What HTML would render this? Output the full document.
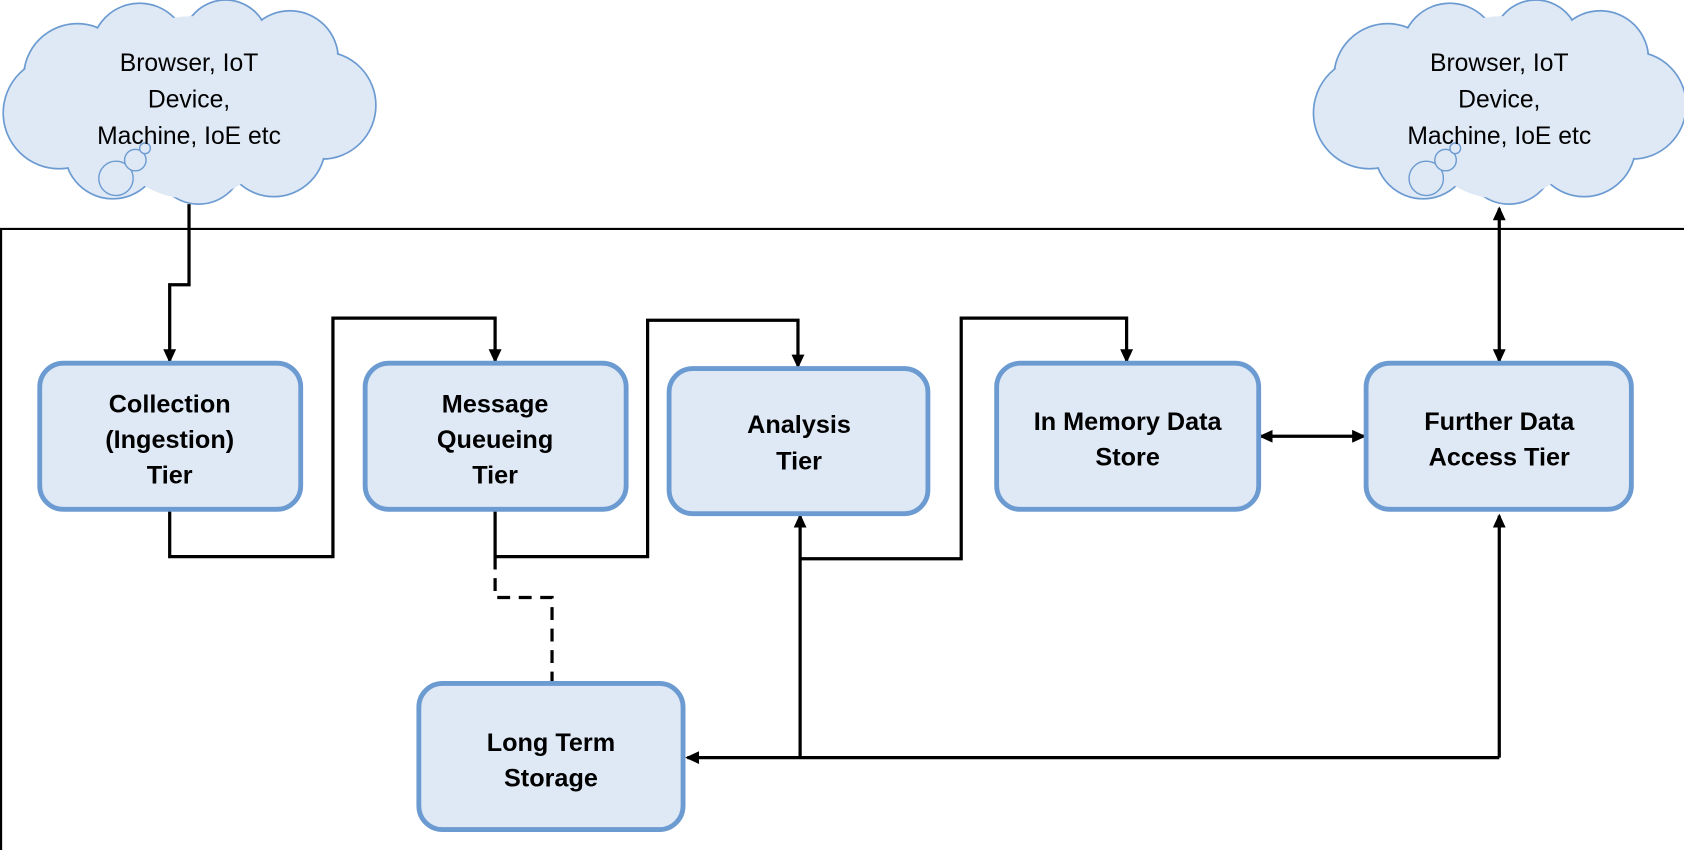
<!DOCTYPE html>
<html><head><meta charset="utf-8"><style>
html,body{margin:0;padding:0;background:#fff;}
svg{display:block;}
.ct{font-family:"Liberation Sans",sans-serif;font-size:23px;fill:#000;text-anchor:middle;}
.bt{font-family:"Liberation Sans",sans-serif;font-size:23.5px;font-weight:bold;fill:#000;text-anchor:middle;}
.box{fill:#dfe9f5;stroke:#6c9bd2;stroke-width:4.5;}
.ln{fill:none;stroke:#000;stroke-width:3;}
</style></head><body>
<svg width="1684" height="850" viewBox="0 0 1568 791" preserveAspectRatio="none" xmlns="http://www.w3.org/2000/svg">
<defs>
<marker id="ah" markerWidth="13" markerHeight="12" refX="11" refY="6" orient="auto-start-reverse" markerUnits="userSpaceOnUse">
<path d="M0,0 L13,6 L0,12 z" fill="#000"/></marker>
<g id="cloud">
 <g fill="#dfe9f5" stroke="#6c9bd2" stroke-width="1.6">
  <circle cx="72" cy="72" r="50"/><circle cx="130" cy="48" r="45"/><circle cx="210" cy="40" r="40"/>
  <circle cx="270" cy="55" r="45"/><circle cx="300" cy="98" r="50"/><circle cx="255" cy="135" r="48"/>
  <circle cx="185" cy="148" r="42"/><circle cx="105" cy="140" r="45"/><circle cx="55" cy="105" r="52"/>
 </g>
 <g fill="#dfe9f5">
  <circle cx="72" cy="72" r="49"/><circle cx="130" cy="48" r="44"/><circle cx="210" cy="40" r="39"/>
  <circle cx="270" cy="55" r="44"/><circle cx="300" cy="98" r="49"/><circle cx="255" cy="135" r="47"/>
  <circle cx="185" cy="148" r="41"/><circle cx="105" cy="140" r="44"/><circle cx="55" cy="105" r="51"/>
  <circle cx="178" cy="100" r="85"/>
 </g>
 <g fill="#dfe9f5" stroke="#6c9bd2" stroke-width="1.3">
  <circle cx="108" cy="166" r="16"/><circle cx="126" cy="149" r="10"/><circle cx="135" cy="138" r="5"/>
 </g>
</g>
</defs>
<use href="#cloud" x="0" y="0"/>
<use href="#cloud" x="1220" y="0"/>
<text class="ct" x="176" y="66">Browser, IoT</text>
<text class="ct" x="176" y="100">Device,</text>
<text class="ct" x="176" y="134">Machine, IoE etc</text>
<text class="ct" x="1396" y="66">Browser, IoT</text>
<text class="ct" x="1396" y="100">Device,</text>
<text class="ct" x="1396" y="134">Machine, IoE etc</text>

<path d="M0,213 H1568 M1,213 V791" stroke="#000" stroke-width="2" fill="none"/>

<path class="ln" d="M176,190 V265 H158 V336" marker-end="url(#ah)"/>
<path class="ln" d="M158,474 V518 H310 V296 H461 V336" marker-end="url(#ah)"/>
<path class="ln" d="M461,474 V518 H603 V298 H743 V341" marker-end="url(#ah)"/>
<path class="ln" d="M461,518 V556 H514 V636" stroke-dasharray="12,8"/>
<path class="ln" d="M745,520 H895 V296 H1049 V336" marker-end="url(#ah)"/>
<path class="ln" d="M745,705 V480" marker-end="url(#ah)"/>
<path class="ln" d="M1396,705 V480" marker-end="url(#ah)"/>
<path class="ln" d="M1396,705 H640" marker-end="url(#ah)"/>
<path class="ln" d="M1174,406 H1270" marker-start="url(#ah)" marker-end="url(#ah)"/>
<path class="ln" d="M1396,194 V336" marker-start="url(#ah)" marker-end="url(#ah)"/>

<rect class="box" x="37" y="338" width="243" height="136" rx="22"/>
<text class="bt" x="158" y="384">Collection</text>
<text class="bt" x="158" y="417">(Ingestion)</text>
<text class="bt" x="158" y="450">Tier</text>

<rect class="box" x="340" y="338" width="243" height="136" rx="22"/>
<text class="bt" x="461" y="384">Message</text>
<text class="bt" x="461" y="417">Queueing</text>
<text class="bt" x="461" y="450">Tier</text>

<rect class="box" x="623" y="343" width="241" height="135" rx="22"/>
<text class="bt" x="744" y="403">Analysis</text>
<text class="bt" x="744" y="437">Tier</text>

<rect class="box" x="928" y="338" width="244" height="136" rx="22"/>
<text class="bt" x="1050" y="400">In Memory Data</text>
<text class="bt" x="1050" y="433">Store</text>

<rect class="box" x="1272" y="338" width="247" height="136" rx="22"/>
<text class="bt" x="1396" y="400">Further Data</text>
<text class="bt" x="1396" y="433">Access Tier</text>

<rect class="box" x="390" y="636" width="246" height="136" rx="22"/>
<text class="bt" x="513" y="699">Long Term</text>
<text class="bt" x="513" y="732">Storage</text>
</svg>
</body></html>
